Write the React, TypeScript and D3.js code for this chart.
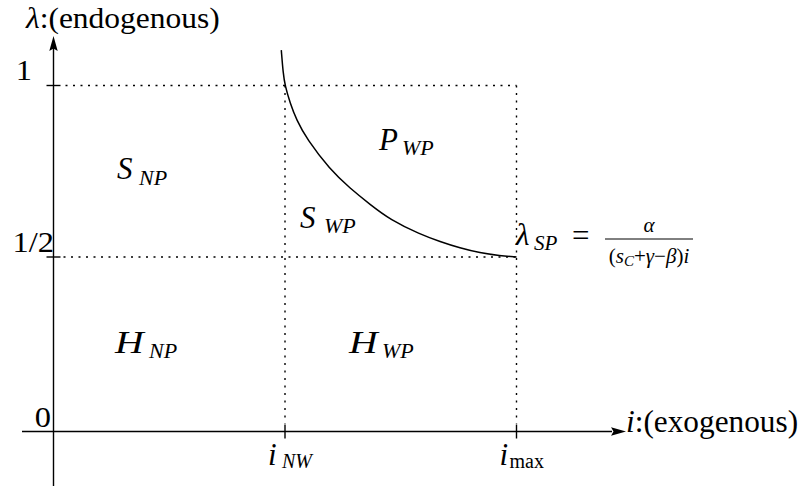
import React from "react";
import * as d3 from "d3";

// Axis ticks (data units) and their labels
const lambdaTicks = [0, 0.5, 1];
const lambdaTickLabels = ["0", "1/2", "1"];
const iTicks = [0.5, 1];

// Boundary curve λ_SP(i), sampled points
const curveI = [0.492, 0.496, 0.5, 0.511, 0.525, 0.547, 0.597, 0.64, 0.684, 0.727, 0.792, 0.835, 0.878, 0.921, 0.964, 1.0];
const curveLambda = [1.103, 1.036, 1.0, 0.949, 0.899, 0.844, 0.755, 0.701, 0.653, 0.609, 0.566, 0.545, 0.526, 0.512, 0.504, 0.5];

const W = 809;
const H = 491;
const SERIF = "'Liberation Serif', 'Times New Roman', serif";

const x = d3.scaleLinear().domain([0, 1]).range([53.5, 516.5]);
const y = d3.scaleLinear().domain([0, 0.5, 1]).range([431.5, 257, 85.5]);

type TProps = {
  x: number;
  y: number;
  size: number;
  italic?: boolean;
  anchor?: "start" | "middle" | "end";
  sx?: number;
  children: React.ReactNode;
};

function T({ x: tx, y: ty, size, italic, anchor = "start", sx = 1, children }: TProps) {
  return (
    <text
      transform={`translate(${tx},${ty}) scale(${sx},1)`}
      fontFamily={SERIF}
      fontSize={size}
      fontStyle={italic ? "italic" : "normal"}
      textAnchor={anchor}
      fill="#000"
    >
      {children}
    </text>
  );
}

export default function App() {
  const pts: [number, number][] = curveI.map((v, k) => [v, curveLambda[k]]);
  const line = d3
    .line<[number, number]>()
    .x((d) => x(d[0]))
    .y((d) => y(d[1]))
    .curve(d3.curveBasis);

  const x0 = x(0);
  const y0 = y(0);
  const dash = "2,5.5";
  const tickLabelX = [51, 54, 32];
  const tickLabelY = [427, y(0.5) - 5, y(1) - 6];

  return (
    <svg
      width={W}
      height={H}
      viewBox={`0 0 ${W} ${H}`}
      style={{ position: "absolute", left: 0, top: 0, background: "#fff" }}
    >
      {/* dotted guides */}
      <g stroke="#000" strokeWidth={1.4} strokeDasharray={dash} fill="none">
        <line x1={x0 + 12} x2={x(1)} y1={y(1)} y2={y(1)} />
        <line x1={x0 + 10} x2={x(1)} y1={y(0.5)} y2={y(0.5)} />
        <line x1={x(0.5)} x2={x(0.5)} y1={y(1)} y2={y0 - 8} />
        <line x1={x(1)} x2={x(1)} y1={y(1)} y2={y0 - 8} />
      </g>

      {/* axes */}
      <g stroke="#000" strokeWidth={1.4}>
        <line x1={x0} x2={x0} y1={486} y2={48} />
        <line x1={22} x2={612} y1={y0} y2={y0} />
      </g>
      <path d={`M${x0},36 L${x0 + 4.2},51 L${x0},48.5 L${x0 - 4.2},51 Z`} fill="#000" />
      <path d={`M626,${y0} L611,${y0 - 4.2} L613.5,${y0} L611,${y0 + 4.2} Z`} fill="#000" />

      {/* ticks */}
      <g stroke="#000" strokeWidth={1.4}>
        {lambdaTicks.filter((t) => t > 0).map((t) => (
          <line key={t} x1={x0 - 7} x2={x0 + 7} y1={y(t)} y2={y(t)} />
        ))}
        {iTicks.map((t) => (
          <line key={t} x1={x(t)} x2={x(t)} y1={y0 - 7} y2={y0 + 7} />
        ))}
      </g>

      {/* boundary curve */}
      <path d={line(pts) || ""} fill="none" stroke="#000" strokeWidth={1.5} />

      {/* tick labels */}
      {lambdaTicks.map((t, k) => (
        <T key={t} x={tickLabelX[k]} y={tickLabelY[k]} size={30} sx={1.08} anchor="end">
          {lambdaTickLabels[k]}
        </T>
      ))}
      <T x={x(0.5) - 17} y={465} size={31} italic>i</T>
      <T x={x(0.5) - 3} y={468} size={20} italic>NW</T>
      <T x={x(1) - 17} y={465} size={31} italic>i</T>
      <T x={x(1) - 7} y={468} size={20}>max</T>

      {/* axis titles */}
      <T x={26} y={28} size={30} sx={1.05}>
        <tspan fontStyle="italic">λ</tspan>:(endogenous)
      </T>
      <T x={626} y={432} size={31} sx={1.01}>
        <tspan fontStyle="italic">i</tspan>:(exogenous)
      </T>

      {/* region labels */}
      <T x={117} y={179} size={31} italic>S</T>
      <T x={139} y={185} size={22} italic>NP</T>
      <T x={379} y={150} size={31} italic>P</T>
      <T x={402} y={155} size={22} italic>WP</T>
      <T x={300} y={228} size={31} italic>S</T>
      <T x={324} y={233} size={22} italic>WP</T>
      <T x={115} y={353} size={31} italic sx={1.28}>H</T>
      <T x={149} y={358} size={22} italic>NP</T>
      <T x={349} y={353} size={31} italic sx={1.28}>H</T>
      <T x={382} y={358} size={22} italic>WP</T>

      {/* curve formula */}
      <T x={516} y={245} size={31} italic>λ</T>
      <T x={534} y={250} size={21} italic>SP</T>
      <T x={572} y={246} size={31}>=</T>
      <line x1={605} x2={693} y1={239} y2={239} stroke="#000" strokeWidth={1} />
      <T x={649} y={232} size={21} anchor="middle">
        <tspan fontStyle="italic">α</tspan>
      </T>
      <T x={649} y={263} size={21} anchor="middle">
        (<tspan fontStyle="italic">s</tspan>
        <tspan fontStyle="italic" fontSize={15} dy={3}>C</tspan>
        <tspan dy={-3}>+</tspan>
        <tspan fontStyle="italic">γ</tspan>−<tspan fontStyle="italic">β</tspan>)
        <tspan fontStyle="italic">i</tspan>
      </T>
    </svg>
  );
}
